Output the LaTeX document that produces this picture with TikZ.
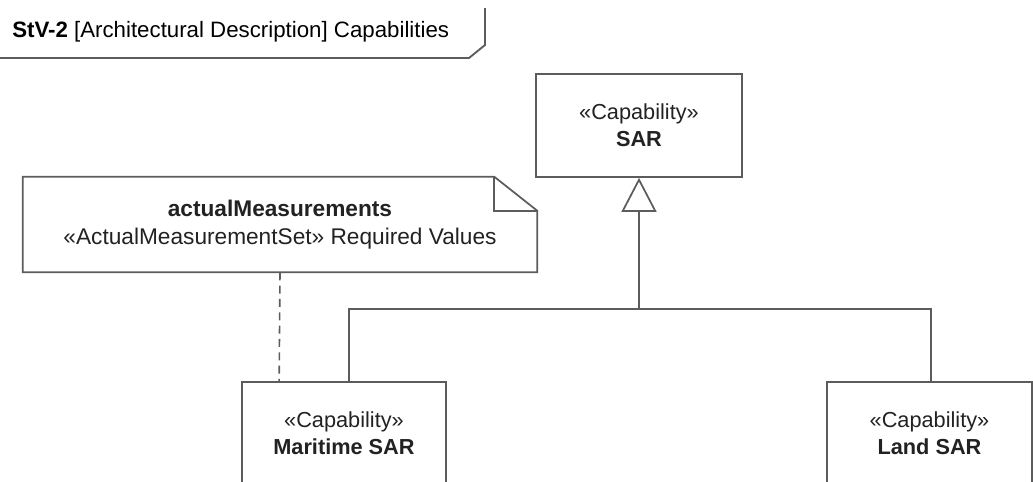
\documentclass[tikz,border=0pt]{standalone}
\usepackage{fontspec}
\setmainfont{Liberation Sans}
\usetikzlibrary{arrows.meta,positioning,calc,backgrounds}
\definecolor{umlline}{HTML}{5C5C5C}
\definecolor{umltext}{HTML}{222222}
\tikzset{
  font=\fontsize{16.3}{20.5}\selectfont,
  capbox/.style={draw=umlline,line width=1.3pt,fill=white,inner sep=0pt,
                 minimum width=154pt,minimum height=77.25pt,align=center,text=umltext},
  notebox/.style={inner sep=0pt,minimum width=385.5pt,minimum height=71.25pt,
                  align=center,text=umltext,font=\fontsize{17}{20.5}\selectfont},
  noteline/.style={draw=umlline,line width=1.3pt,line join=miter},
  genline/.style={draw=umlline,line width=1.3pt},
  anchorline/.style={draw=umlline,line width=1.2pt,dash pattern=on 6pt off 4pt},
  frameline/.style={draw=umlline,line width=1.4pt},
  genhead/.style={-{Triangle[open,length=25.5pt,width=26.25pt,fill=white]}},
}
\newcommand{\stereo}[1]{{\color{umltext}\guillemotleft#1\guillemotright}}

\begin{document}
\begin{tikzpicture}[x=0.75pt,y=-0.75pt]
  \useasboundingbox (0,0) rectangle (1033,482);

  % ---- diagram frame tab ----
  \node[anchor=base west,inner sep=0pt,font=\fontsize{16.7}{20.5}\selectfont] (title) at (12,37)
    {\textbf{StV-2} [Architectural Description] Capabilities};
  \draw[frameline] (0,58) -- (469,58) -- (485,45) -- (485,8);

  % ---- capabilities ----
  \node[capbox] (sar) at (639,125.5)
    {\stereo{Capability}\\\textbf{SAR}};
  \node[capbox,minimum width=153pt] (maritime) at (344,433.5)
    {\stereo{Capability}\\\textbf{Maritime SAR}};
  \node[capbox,minimum width=153.75pt] (land) at (929.5,433.5)
    {\stereo{Capability}\\\textbf{Land SAR}};

  % ---- measurement note ----
  \node[notebox] (note) at (280,224.5)
    {\textbf{actualMeasurements}\\\stereo{ActualMeasurementSet} Required Values};
  \begin{scope}[on background layer]
    \draw[noteline,fill=white] (note.north west) -- ($(note.north east)+(-43,0)$)
      -- ($(note.north east)+(0,34)$) -- (note.south east) -- (note.south west) -- cycle;
    \draw[noteline] ($(note.north east)+(-43,0)$) -- ($(note.north east)+(-43,34)$)
      -- ($(note.north east)+(0,34)$);
  \end{scope}

  % ---- generalization tree ----
  \coordinate (join) at (639,309);
  \draw[genline] ($(maritime.north)+(5,0)$) |- (join);
  \draw[genline] ($(land.north)+(1.5,0)$) |- (join);
  \draw[genline,genhead] (join) -- (sar.south);

  % ---- note anchor ----
  \draw[anchorline] (note.south) -- ($(maritime.north west)+(38,0)$);
\end{tikzpicture}
\end{document}
